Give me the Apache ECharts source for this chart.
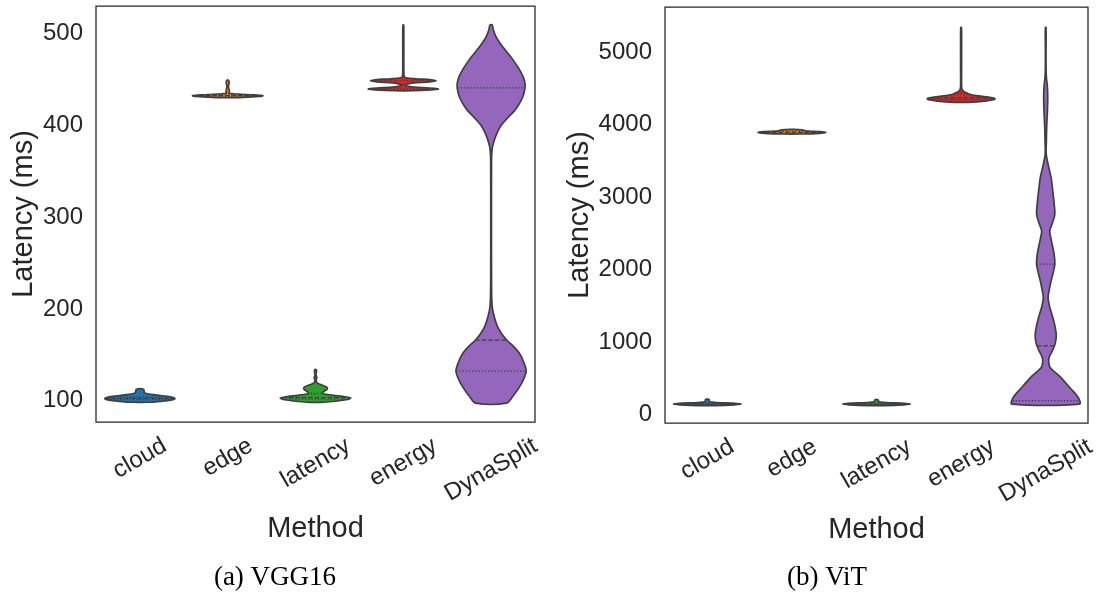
<!DOCTYPE html>
<html>
<head>
<meta charset="utf-8">
<script src="https://cdn.jsdelivr.net/npm/echarts@6/dist/echarts.min.js"></script>
<style>
  html, body { margin: 0; padding: 0; background: #ffffff; }
  #chart { width: 1097px; height: 598px; }
</style>
</head>
<body>
<div id="chart"></div>
<script>
// Methods compared on both models
const methods = ['cloud', 'edge', 'latency', 'energy', 'DynaSplit'];

// Violin outlines: [latency in ms, relative half-width of the density]
// VGG16
const vggCloud = [[98.5,0.25],[99.5,0.6],[100.8,0.88],[102.5,1.0],[104,0.9],[105.3,0.7],[106.5,0.45],[107.5,0.25],[108.5,0.14],[109.5,0.12],[111,0.12],[112.3,0.11],[113.2,0.05]];
const vggEdge = [[430,0.25],[430.8,0.7],[431.6,0.97],[432.2,1.0],[433,0.75],[433.8,0.3],[434.6,0.04],[436,0.045],[438,0.045],[440,0.03],[442,0.02],[443.5,0.025],[445.5,0.04],[447.5,0.04],[449,0.015]];
const vggLatency = [[98.5,0.25],[100,0.65],[101.5,0.92],[103,1.0],[104.5,0.85],[106,0.5],[107.5,0.25],[108.8,0.2],[110.5,0.25],[112.3,0.32],[113.8,0.34],[115.5,0.3],[117.2,0.18],[118.8,0.07],[120.5,0.03],[123,0.02],[125.5,0.04],[127,0.02],[130,0.015],[132,0.03],[134,0.02]];
const vggEnergy = [[437.5,0.25],[438.5,0.8],[439.4,1.0],[440.4,0.75],[441.4,0.3],[442.5,0.1],[443.6,0.06],[444.6,0.1],[446,0.3],[447.2,0.75],[448.3,0.93],[449.4,0.8],[450.5,0.35],[451.6,0.08],[453,0.025],[460,0.015],[480,0.015],[500,0.015],[509,0.01]];
const vggDyna = [[97.6,0.44],[105,0.62],[114.7,0.8],[124,0.93],[132.4,1.0],[142,0.93],[152,0.8],[160,0.62],[166,0.45],[173,0.3],[181,0.18],[191.5,0.09],[200,0.04],[209.7,0.02],[230,0.012],[300,0.01],[360,0.012],[370,0.02],[376.5,0.04],[387,0.12],[398.3,0.26],[407,0.45],[416.4,0.68],[425,0.83],[434,0.93],[443.6,0.97],[452,0.92],[461,0.8],[470.8,0.63],[480,0.44],[489,0.26],[497,0.13],[503,0.07],[509,0.03]];
// Quartiles [Q1, median, Q3]
const vggQuartiles = [[101.5,102.7,104.5],[431.4,432.1,432.8],[101.8,103.5,108],[439.4,444,448.4],[132.4,166,440.7]];

// ViT
const vitCloud = [[121,0.25],[131,0.8],[141,1.0],[151,0.8],[162,0.3],[172,0.07],[187,0.06],[200,0.06],[210,0.03]];
const vitEdge = [[3872,0.25],[3881,0.8],[3893,1.0],[3904,0.85],[3912,0.45],[3920,0.38],[3928,0.3],[3936,0.05]];
const vitLatency = [[121,0.25],[131,0.8],[141,1.0],[151,0.8],[162,0.3],[172,0.07],[187,0.06],[197,0.05],[204,0.03]];
const vitEnergy = [[4310,0.2],[4325,0.7],[4345,0.95],[4361,1.0],[4381,0.8],[4401,0.45],[4421,0.25],[4442,0.15],[4462,0.07],[4487,0.03],[4538,0.015],[4842,0.015],[5146,0.015],[5343,0.01]];
const vitDyna = [[141,1.0],[233,0.96],[370,0.71],[508,0.45],[647,0.13],[719,0.09],[785,0.1],[861,0.18],[946,0.26],[1023,0.3],[1108,0.31],[1225,0.27],[1337,0.21],[1479,0.12],[1613,0.07],[1732,0.11],[1844,0.16],[1955,0.22],[2074,0.27],[2208,0.25],[2351,0.19],[2441,0.15],[2534,0.12],[2646,0.2],[2765,0.27],[2907,0.25],[3042,0.22],[3160,0.19],[3270,0.16],[3433,0.08],[3594,0.015],[3788,0.02],[3985,0.03],[4183,0.05],[4376,0.06],[4524,0.05],[4652,0.02],[4791,0.01],[5044,0.01],[5343,0.01]];
const vitQuartiles = [[133,141,150],[3885,3895,3910],[133,141,150],[4345,4371,4431],[187,946,2074]];

// Visible value ranges of the two panels
const vggRange = [77, 529.7];
const vitRange = [-120, 5626];

const fills = ['#1f77b4', '#ff7f0e', '#2ca02c', '#d62728', '#9467bd'];
const edgeColor = '#3f3f3f';
const textColor = '#262626';
const sans = '"Liberation Sans", Arial, sans-serif';
const tickSize = 24;
const labelSize = 29;

const measureCtx = document.createElement('canvas').getContext('2d');
measureCtx.font = tickSize + 'px "Liberation Sans"';

function widthAt(profile, v) {
  if (v <= profile[0][0]) return profile[0][1];
  for (let k = 1; k < profile.length; k++) {
    const a = profile[k - 1], b = profile[k];
    if (v <= b[0]) return a[1] + (b[1] - a[1]) * (v - a[0]) / (b[0] - a[0]);
  }
  return profile[profile.length - 1][1];
}

function violinRenderer(profiles, quartiles, yMin) {
  return function (params, api) {
    const i = api.value(0);
    const prof = profiles[i];
    const band = api.size([1, 0])[0];
    const maxHalf = band * 0.4;
    const cx = api.coord([i, prof[0][0]])[0];
    const right = [], left = [];
    prof.forEach(function (p) {
      const y = api.coord([i, p[0]])[1];
      right.push([cx + p[1] * maxHalf, y]);
      left.push([cx - p[1] * maxHalf, y]);
    });
    const pts = right.concat(left.reverse());
    const children = [{
      type: 'polygon',
      shape: { points: pts, smooth: 0.3 },
      style: { fill: fills[i], stroke: edgeColor, lineWidth: 1.7 }
    }];
    quartiles[i].forEach(function (q, k) {
      const hw = widthAt(prof, q) * maxHalf;
      const y = api.coord([i, q])[1];
      children.push({
        type: 'line',
        shape: { x1: cx - hw, y1: y, x2: cx + hw, y2: y },
        style: { stroke: edgeColor, lineWidth: 1.3, lineDash: k === 1 ? [4.5, 2] : [1.3, 1.9] }
      });
    });
    // rotated category label below the panel
    const bottom = api.coord([i, yMin])[1];
    const name = methods[i];
    const L = measureCtx.measureText(name).width;
    const half = (L * 0.5 + 21 * 0.866) / 2;
    children.push({
      type: 'text',
      x: cx, y: bottom + 13 + half,
      rotation: Math.PI / 6,
      style: { text: name, fontSize: tickSize, fontFamily: sans, fill: textColor, align: 'center', verticalAlign: 'middle' }
    });
    return { type: 'group', children: children };
  };
}

function yAxisFor(gridIndex, range, step, gap) {
  return {
    type: 'value', gridIndex: gridIndex, min: range[0], max: range[1],
    name: 'Latency (ms)', nameLocation: 'middle', nameGap: gap, nameRotate: 90,
    nameTextStyle: { fontSize: labelSize, color: textColor, fontFamily: sans },
    axisLine: { show: false }, axisTick: { show: false }, splitLine: { show: false },
    axisLabel: {
      fontSize: tickSize, color: textColor, fontFamily: sans, margin: 13,
      formatter: function (v) { return Math.abs(v % step) < 1e-6 ? String(v) : ''; }
    }
  };
}

function xAxisFor(gridIndex) {
  return {
    type: 'category', gridIndex: gridIndex, data: methods,
    name: 'Method', nameLocation: 'middle', nameGap: 92,
    nameTextStyle: { fontSize: labelSize, color: textColor, fontFamily: sans },
    axisLine: { show: false }, axisTick: { show: false }, axisLabel: { show: false },
    splitLine: { show: false }
  };
}

const chart = echarts.init(document.getElementById('chart'), null, { renderer: 'canvas' });
chart.setOption({
  animation: false,
  backgroundColor: '#ffffff',
  grid: [
    { left: 96, top: 6, width: 439, height: 416, show: true, borderColor: textColor, borderWidth: 1.25, backgroundColor: 'transparent' },
    { left: 665, top: 7, width: 423, height: 416, show: true, borderColor: textColor, borderWidth: 1.25, backgroundColor: 'transparent' }
  ],
  xAxis: [xAxisFor(0), xAxisFor(1)],
  yAxis: [yAxisFor(0, vggRange, 100, 58), yAxisFor(1, vitRange, 1000, 70)],
  series: [
    {
      type: 'custom', xAxisIndex: 0, yAxisIndex: 0, clip: false,
      renderItem: violinRenderer([vggCloud, vggEdge, vggLatency, vggEnergy, vggDyna], vggQuartiles, vggRange[0]),
      data: methods.map(function (m, i) { return [i, vggQuartiles[i][1]]; })
    },
    {
      type: 'custom', xAxisIndex: 1, yAxisIndex: 1, clip: false,
      renderItem: violinRenderer([vitCloud, vitEdge, vitLatency, vitEnergy, vitDyna], vitQuartiles, vitRange[0]),
      data: methods.map(function (m, i) { return [i, vitQuartiles[i][1]]; })
    }
  ],
  graphic: [
    { type: 'text', x: 275, y: 578, style: { text: '(a) VGG16', fontSize: 27, fontFamily: '"Liberation Serif", serif', fill: '#000', align: 'center', verticalAlign: 'middle' } },
    { type: 'text', x: 827, y: 578, style: { text: '(b) ViT', fontSize: 27, fontFamily: '"Liberation Serif", serif', fill: '#000', align: 'center', verticalAlign: 'middle' } }
  ]
});
</script>
</body>
</html>
